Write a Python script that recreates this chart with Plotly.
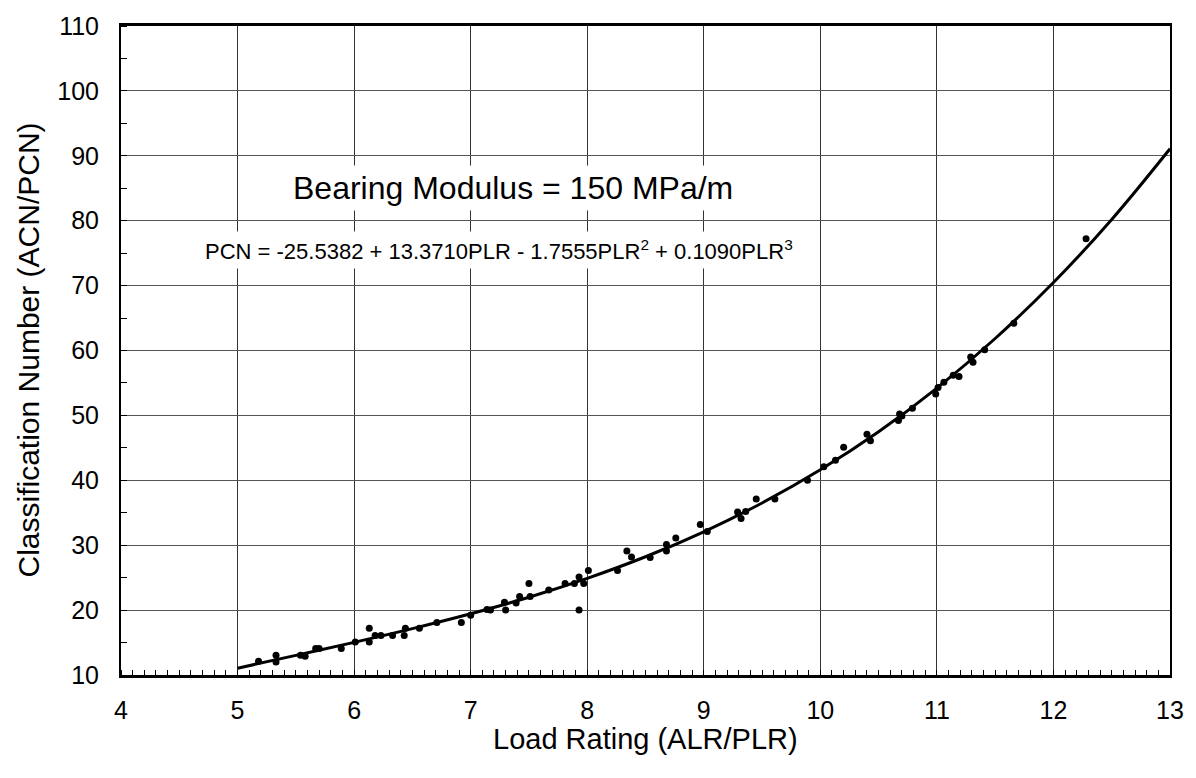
import plotly.graph_objects as go

# Scatter data (Load Rating, Classification Number)
plr = [5.18, 5.33, 5.33, 5.54, 5.58, 5.67, 5.70, 5.89, 6.01, 6.13, 6.13, 6.18, 6.23,
       6.33, 6.43, 6.44, 6.56, 6.71, 6.92, 7.00, 7.14, 7.17, 7.29, 7.30, 7.39, 7.42,
       7.50, 7.51, 7.67, 7.81, 7.89, 7.93, 7.93, 7.97, 8.01, 8.26, 8.34, 8.38, 8.54,
       8.68, 8.68, 8.76, 8.97, 9.03, 9.29, 9.32, 9.36, 9.45, 9.61, 9.89, 10.03, 10.13,
       10.20, 10.40, 10.43, 10.67, 10.70, 10.68, 10.79, 10.99, 11.01, 11.06, 11.14,
       11.19, 11.29, 11.31, 11.41, 11.66, 12.28]
pcn = [12.1, 13.05, 12.0, 13.05, 12.9, 14.1, 14.1, 14.1, 15.1, 17.2, 15.1, 16.1, 16.1,
       16.1, 16.1, 17.2, 17.2, 18.1, 18.1, 19.2, 20.1, 20.0, 21.2, 20.0, 21.1, 22.1,
       24.1, 22.1, 23.1, 24.1, 24.1, 25.1, 20.0, 24.1, 26.1, 26.1, 29.1, 28.2, 28.1,
       30.1, 29.1, 31.1, 33.2, 32.1, 35.1, 34.1, 35.2, 37.1, 37.1, 40.0, 42.1, 43.1,
       45.1, 47.1, 46.1, 49.2, 49.9, 50.2, 51.1, 53.3, 54.3, 55.1, 56.2,
       56.0, 59.0, 58.2, 60.1, 64.2, 77.2]

# Fitted curve points
curve_x = [5, 5.5, 6, 6.5, 7, 7.5, 8, 8.5, 9, 9.5, 10, 10.5, 11, 11.5, 12, 12.5, 13]
curve_y = [11.05, 13.03, 15.03, 17.14, 19.43, 21.98, 24.89, 28.22, 32.07, 36.51,
           41.62, 47.49, 54.21, 61.85, 70.47, 80.19, 91.08]

x_ticks = [4, 5, 6, 7, 8, 9, 10, 11, 12, 13]
y_ticks = [10, 20, 30, 40, 50, 60, 70, 80, 90, 100, 110]

x_title = "Load Rating (ALR/PLR)"
y_title = "Classification Number (ACN/PCN)"
title_text = "Bearing Modulus = 150 MPa/m"
eq_text = ("PCN = -25.5382 + 13.3710PLR - 1.7555PLR<sup>2</sup> + "
           "0.1090PLR<sup>3</sup>")

FONT = "Liberation Sans, Arial, sans-serif"

fig = go.Figure()
fig.add_trace(go.Scatter(x=curve_x, y=curve_y, mode="lines",
                         line=dict(color="black", width=3, shape="spline"),
                         showlegend=False, hoverinfo="skip"))
fig.add_trace(go.Scatter(x=plr, y=pcn, mode="markers",
                         marker=dict(color="black", size=7),
                         showlegend=False))

fig.add_annotation(x=7.365, y=85.0, xref="x", yref="y", text=title_text,
                   showarrow=False, font=dict(family=FONT, size=32, color="black"),
                   bgcolor="white", borderpad=4)
fig.add_annotation(x=7.24, y=75.5, xref="x", yref="y", text=eq_text,
                   showarrow=False, font=dict(family=FONT, size=22, color="black"),
                   bgcolor="white", borderpad=4)

# Axis titles
fig.add_annotation(x=0.5, y=0, xref="paper", yref="paper", text=x_title,
                   showarrow=False, xanchor="center", yanchor="middle", yshift=-64,
                   font=dict(family=FONT, size=29, color="black"))
fig.add_annotation(x=0, y=0.5, xref="paper", yref="paper", text=y_title,
                   showarrow=False, xanchor="center", yanchor="middle", xshift=-93,
                   textangle=-90, font=dict(family=FONT, size=30, color="black"))

fig.update_layout(
    width=1196, height=778,
    margin=dict(l=121, r=22, t=20, b=103),
    paper_bgcolor="white", plot_bgcolor="white",
    font=dict(family=FONT, color="black"),
    xaxis=dict(range=[4, 13], tickvals=x_ticks, ticks="", showgrid=True,
               gridcolor="#333333", gridwidth=1, zeroline=False,
               showline=True, linecolor="black", linewidth=3, mirror=True,
               tickfont=dict(size=25), ticklabelstandoff=11,
               minor=dict(dtick=0.1, ticks="inside", ticklen=5, tickcolor="black",
                          showgrid=False)),
    yaxis=dict(range=[10, 110], tickvals=y_ticks, ticks="", showgrid=True,
               gridcolor="#555555", gridwidth=1, zeroline=False,
               showline=True, linecolor="black", linewidth=2, mirror=True,
               tickfont=dict(size=25), ticklabelstandoff=15,
               minor=dict(dtick=5, ticks="inside", ticklen=6, tickcolor="black",
                          showgrid=False)),
)

fig.write_html("out.html")
